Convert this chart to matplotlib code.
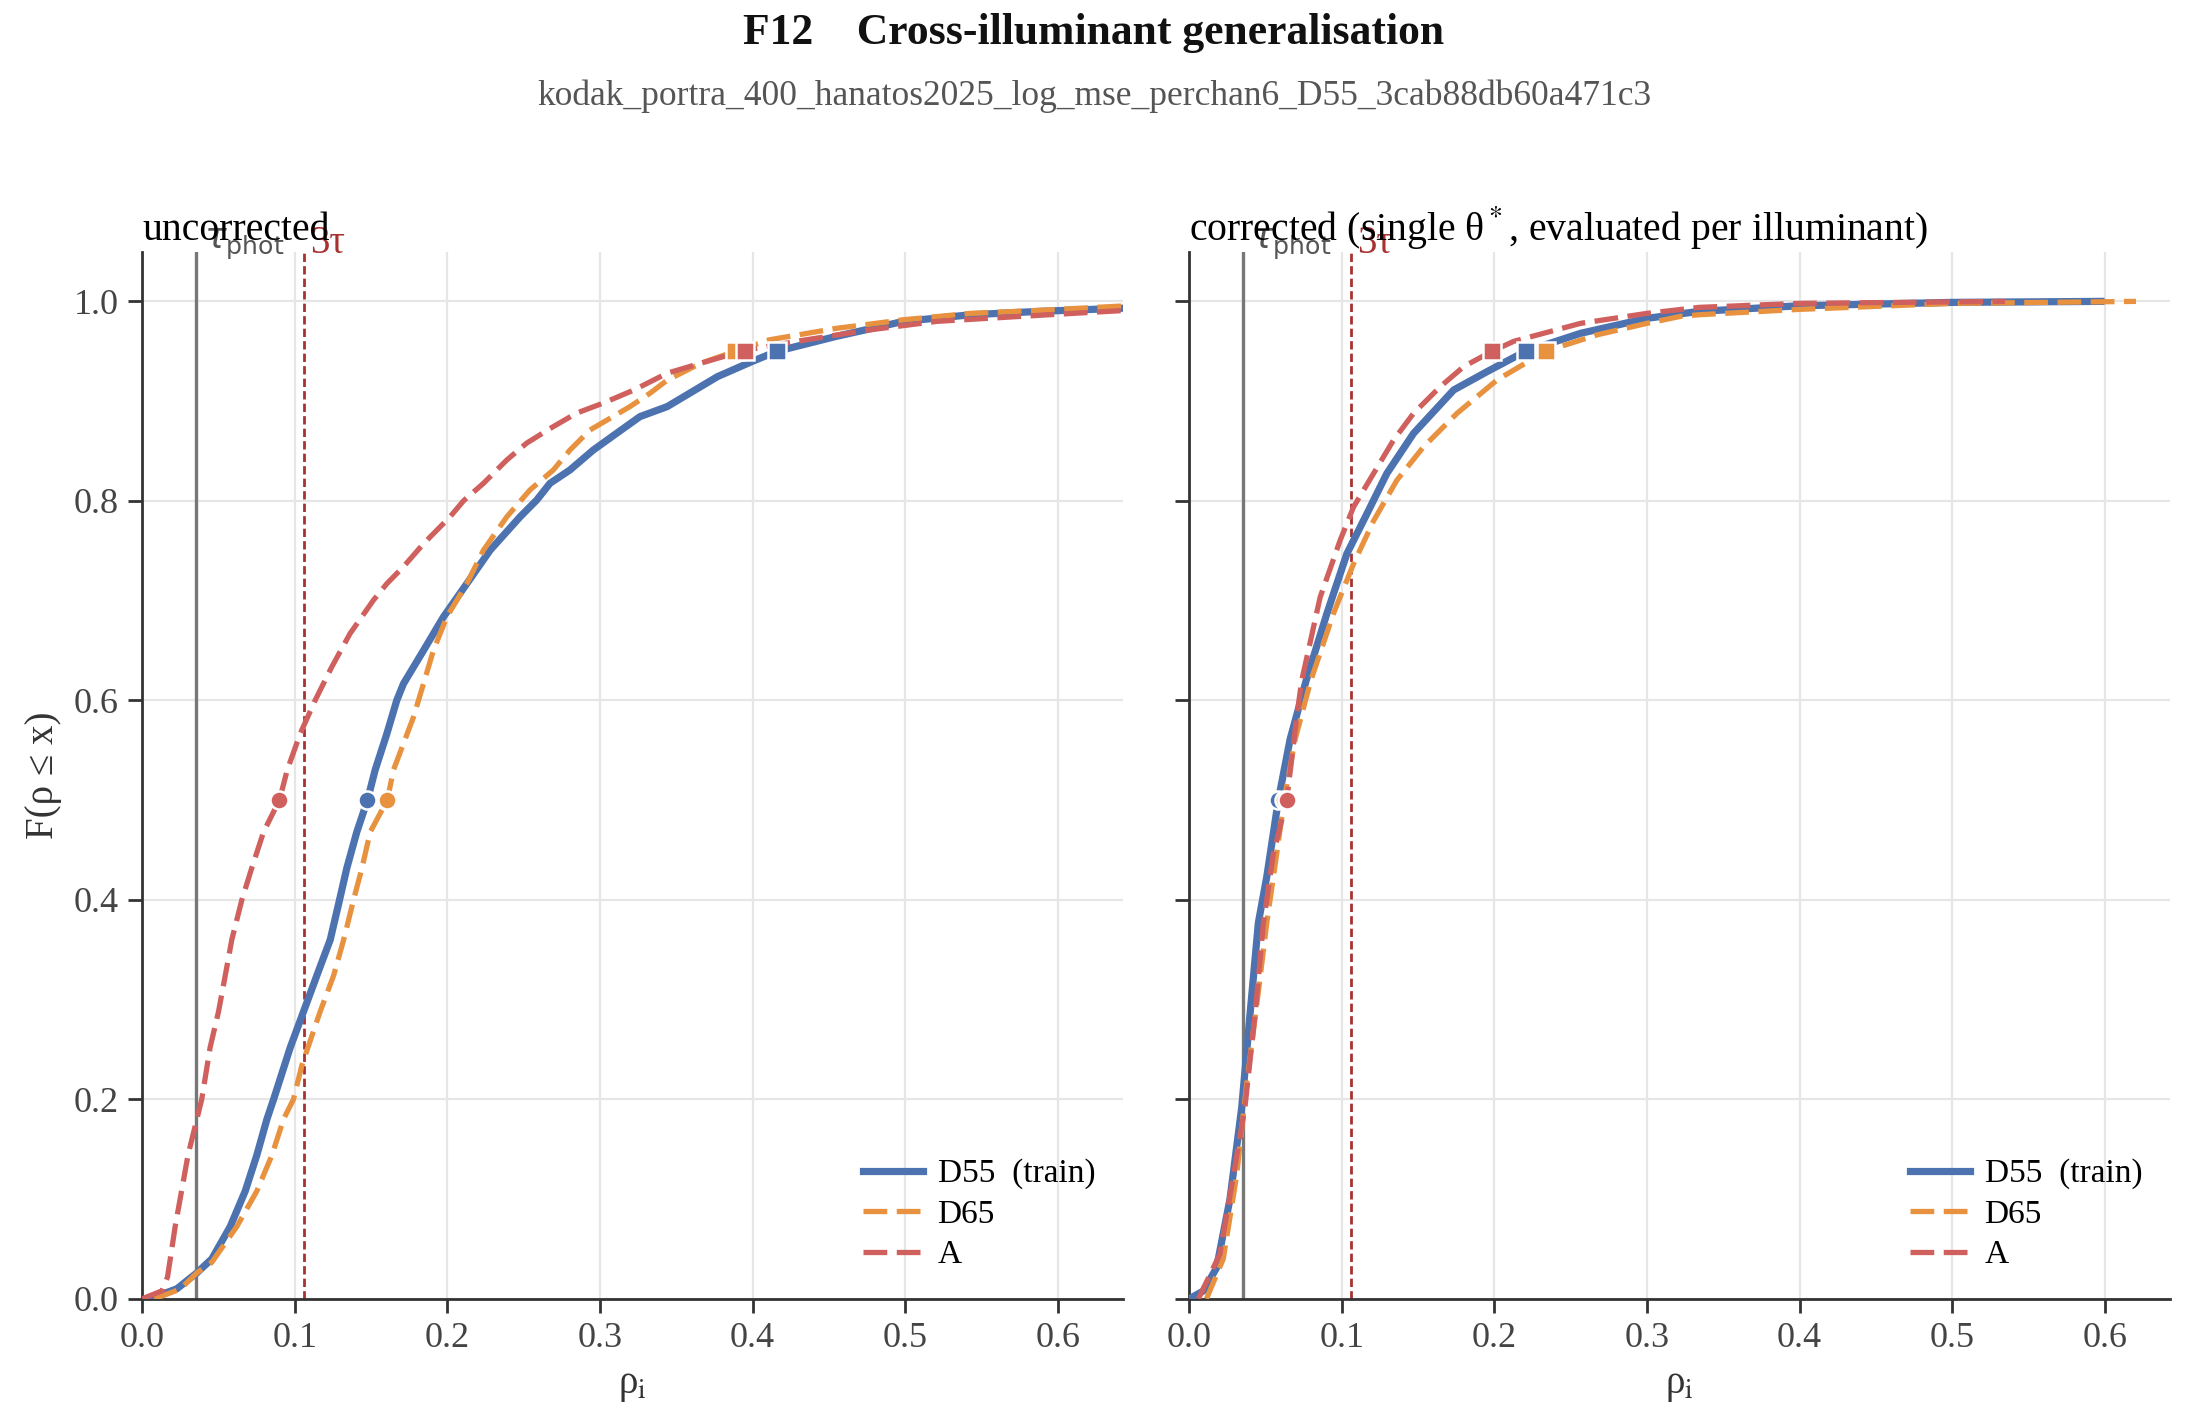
import numpy as np
import matplotlib
matplotlib.use('Agg')
import matplotlib.pyplot as plt
import matplotlib.transforms as mtransforms

plt.rcParams['font.family'] = ['Liberation Serif', 'DejaVu Serif']
plt.rcParams['mathtext.fontset'] = 'stix'

# --- datos (x = rho_i, F = ECDF) ---
tau_phot = 0.0354

# sin corregir
unc_d55_x = [0.005, 0.0227, 0.0358, 0.0456, 0.0577, 0.0675, 0.0751, 0.0817, 0.0861, 0.097, 0.1057,
             0.1144, 0.1232, 0.1293, 0.1341, 0.1406, 0.1476, 0.1526, 0.1603, 0.1668, 0.1712, 0.1843,
             0.1974, 0.2127, 0.228, 0.2476, 0.2585, 0.2672, 0.2803, 0.2956, 0.3109, 0.3262, 0.344,
             0.377, 0.4, 0.416, 0.455, 0.499, 0.543, 0.588, 0.645]
unc_d55_F = [0.0, 0.01, 0.026, 0.04, 0.0725, 0.108, 0.144, 0.18, 0.2, 0.252, 0.288,
             0.324, 0.36, 0.4, 0.432, 0.468, 0.5, 0.53, 0.5665, 0.6, 0.6167, 0.65,
             0.6837, 0.717, 0.7506, 0.784, 0.8008, 0.8176, 0.831, 0.851, 0.8678, 0.8845, 0.8945,
             0.9246, 0.94, 0.95, 0.965, 0.98, 0.9866, 0.99, 0.9933]

unc_d65_x = [0.008, 0.0249, 0.0358, 0.0456, 0.062, 0.0751, 0.085, 0.0926, 0.0991, 0.1046, 0.1166,
             0.1254, 0.132, 0.1385, 0.144, 0.1494, 0.1606, 0.1646, 0.1777, 0.1843, 0.1908, 0.1996,
             0.2127, 0.2236, 0.2389, 0.2541, 0.2694, 0.2803, 0.2934, 0.3197, 0.3328, 0.344, 0.366,
             0.3885, 0.411, 0.455, 0.499, 0.543, 0.588, 0.645]
unc_d65_F = [0.0, 0.0097, 0.026, 0.0366, 0.0725, 0.108, 0.144, 0.18, 0.2, 0.234, 0.288,
             0.324, 0.36, 0.4, 0.432, 0.468, 0.5, 0.53, 0.583, 0.6167, 0.65, 0.6837,
             0.717, 0.7506, 0.784, 0.811, 0.831, 0.851, 0.871, 0.8946, 0.908, 0.921, 0.938,
             0.95, 0.9615, 0.973, 0.9816, 0.988, 0.991, 0.9956]

unc_a_x = [0.0, 0.013, 0.0166, 0.0216, 0.030, 0.0358, 0.039, 0.0445, 0.050, 0.0544, 0.0587,
           0.0653, 0.0718, 0.0795, 0.0899, 0.095, 0.1035, 0.1133, 0.1242, 0.1362, 0.1515, 0.1603,
           0.1712, 0.1843, 0.2017, 0.2105, 0.2236, 0.2389, 0.252, 0.2694, 0.2847, 0.302, 0.322,
           0.344, 0.366, 0.395, 0.433, 0.477, 0.521, 0.565, 0.610, 0.645]
unc_a_F = [0.0, 0.008, 0.022, 0.0725, 0.144, 0.18, 0.2, 0.252, 0.288, 0.324, 0.36,
           0.4, 0.432, 0.468, 0.5, 0.53, 0.5665, 0.6, 0.6335, 0.667, 0.7004, 0.717,
           0.734, 0.757, 0.784, 0.8, 0.8176, 0.841, 0.858, 0.8745, 0.888, 0.898, 0.911,
           0.928, 0.938, 0.951, 0.961, 0.9715, 0.98, 0.984, 0.988, 0.991]

# corregido
cor_d55_x = [0.0, 0.0092, 0.0179, 0.0267, 0.0344, 0.0398, 0.0453, 0.0508, 0.0584, 0.0661, 0.0766,
             0.0902, 0.1033, 0.1164, 0.1295, 0.147, 0.1733, 0.1952, 0.2204, 0.2565, 0.300, 0.334,
             0.4, 0.5, 0.5974]
cor_d55_F = [0.0, 0.0078, 0.031, 0.1, 0.192, 0.2846, 0.377, 0.423, 0.5, 0.561, 0.6198,
             0.687, 0.747, 0.787, 0.8275, 0.8677, 0.9112, 0.9296, 0.95, 0.968, 0.983, 0.99,
             0.9956, 0.999, 1.0]

cor_d65_x = [0.0113, 0.0223, 0.031, 0.0376, 0.0453, 0.0508, 0.0573, 0.0622, 0.0694, 0.0797, 0.0945,
             0.1077, 0.1208, 0.1361, 0.1536, 0.1755, 0.2018, 0.2335, 0.2674, 0.300, 0.322, 0.334,
             0.4, 0.5, 0.6204]
cor_d65_F = [0.0, 0.04, 0.123, 0.215, 0.3077, 0.377, 0.446, 0.5, 0.561, 0.62, 0.687,
             0.737, 0.78, 0.8208, 0.8543, 0.8878, 0.9213, 0.95, 0.9665, 0.978, 0.985, 0.9866,
             0.992, 0.998, 1.0]

cor_a_x = [0.006, 0.0201, 0.0289, 0.0365, 0.0431, 0.0486, 0.0551, 0.0639, 0.0705, 0.0737, 0.0858,
           0.0989, 0.1077, 0.1208, 0.1339, 0.147, 0.1646, 0.1799, 0.1985, 0.2127, 0.2565, 0.300,
           0.334, 0.4, 0.5346]
cor_a_F = [0.0, 0.045, 0.123, 0.192, 0.2846, 0.377, 0.446, 0.5, 0.584, 0.6198, 0.7035,
           0.7605, 0.794, 0.8275, 0.861, 0.8878, 0.9146, 0.9347, 0.95, 0.96, 0.978, 0.988,
           0.994, 0.998, 1.0]

# medianas y p95 por iluminante
unc_median = {'D55': 0.1476, 'D65': 0.1606, 'A': 0.0899}
unc_p95 = {'D55': 0.416, 'D65': 0.3885, 'A': 0.395}
cor_median = {'D55': 0.0584, 'D65': 0.0622, 'A': 0.0639}
cor_p95 = {'D55': 0.2204, 'D65': 0.2335, 'A': 0.1985}

labels = {'D55': 'D55  (train)', 'D65': 'D65', 'A': 'A'}
colors = {'D55': '#4C72B0', 'D65': '#E8923F', 'A': '#D0605E'}

panels = [
    ('uncorrected',
     {'D55': (unc_d55_x, unc_d55_F), 'D65': (unc_d65_x, unc_d65_F), 'A': (unc_a_x, unc_a_F)},
     unc_median, unc_p95),
    ('corrected (single θ$^*$, evaluated per illuminant)',
     {'D55': (cor_d55_x, cor_d55_F), 'D65': (cor_d65_x, cor_d65_F), 'A': (cor_a_x, cor_a_F)},
     cor_median, cor_p95),
]

fig, axes = plt.subplots(1, 2, figsize=(10.94, 7.105), dpi=200, sharey=True)
fig.subplots_adjust(left=0.065, right=0.992, top=0.823, bottom=0.086, wspace=0.067)

for ax, (titulo, curvas, med, p95) in zip(axes, panels):
    for k in ['D55', 'D65', 'A']:
        x, F = curvas[k]
        if k == 'D55':
            ax.plot(x, F, color=colors[k], lw=2.6, ls='-', label=labels[k], zorder=3)
        else:
            ax.plot(x, F, color=colors[k], lw=1.9, ls=(0, (4.5, 1.8)), label=labels[k], zorder=3)
    for k in ['D55', 'D65', 'A']:
        ax.plot([med[k]], [0.5], marker='o', ms=6.5, color=colors[k], mec='white', mew=0.9,
                ls='none', zorder=4)
        ax.plot([p95[k]], [0.95], marker='s', ms=6.5, color=colors[k], mec='white', mew=0.9,
                ls='none', zorder=4)

    ax.axvline(tau_phot, color='#777777', lw=1.2, zorder=2)
    ax.axvline(3 * tau_phot, color='#A83232', lw=1.0, ls=(0, (3, 1.5)), zorder=2)
    trans = mtransforms.blended_transform_factory(ax.transData, ax.transAxes)
    ax.text(tau_phot + 0.005, 0.99, r'$\tau_{\mathrm{phot}}$', transform=trans,
            color='#555555', fontsize=13, va='bottom', ha='left', math_fontfamily='dejavusans')
    ax.text(3 * tau_phot + 0.004, 0.99, '3τ', transform=trans,
            color='#A83232', fontsize=14, va='bottom', ha='left')

    ax.set_xlim(0, 0.643)
    ax.set_ylim(0, 1.05)
    ax.set_xticks(np.arange(0, 0.61, 0.1))
    ax.set_yticks(np.arange(0, 1.01, 0.2))
    ax.xaxis.set_major_formatter(plt.FormatStrFormatter('%.1f'))
    ax.yaxis.set_major_formatter(plt.FormatStrFormatter('%.1f'))
    ax.grid(True, color='#E6E6E6', lw=0.8, zorder=0)
    ax.set_axisbelow(True)
    for s in ['top', 'right']:
        ax.spines[s].set_visible(False)
    for s in ['left', 'bottom']:
        ax.spines[s].set_color('#333333')
        ax.spines[s].set_linewidth(1.0)
    ax.tick_params(axis='both', labelsize=13, colors='#333333', labelcolor='#444444',
                   length=5, width=1.0)
    ax.set_xlabel(r'ρ$_\mathrm{i}$', fontsize=14, color='#333333')
    ax.set_title(titulo, loc='left', fontsize=14.3, pad=4)
    ax.legend(loc='lower right', frameon=False, fontsize=12, handlelength=1.8,
              handletextpad=0.45, borderaxespad=0.45, labelspacing=0.3)

axes[1].tick_params(axis='y', labelleft=False)
axes[0].set_ylabel('F(ρ ≤ x)', fontsize=14, color='#333333')

fig.text(0.5, 0.977, 'F12    Cross-illuminant generalisation', ha='center', va='center',
         fontsize=15.7, fontweight='bold', color='#111111')
fig.text(0.5, 0.932, 'kodak_portra_400_hanatos2025_log_mse_perchan6_D55_3cab88db60a471c3',
         ha='center', va='center', fontsize=12.75, color='#555555')

fig.savefig('out.png', dpi=200)
